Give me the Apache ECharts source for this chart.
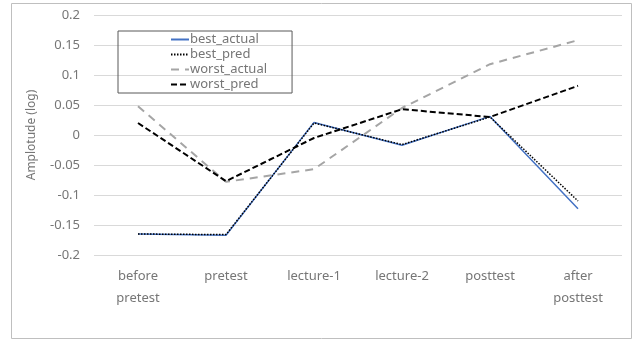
<!DOCTYPE html>
<html>
<head>
<meta charset="utf-8">
<script src="https://cdn.jsdelivr.net/npm/echarts@6/dist/echarts.min.js"></script>
<style>
html,body{margin:0;padding:0;background:#fff;}
#chart{width:639px;height:340px;}
</style>
</head>
<body>
<div id="chart"></div>
<script>
var categories = ['before\npretest', 'pretest', 'lecture-1', 'lecture-2', 'posttest', 'after\nposttest'];
var bestActual = [-0.165, -0.167, 0.021, -0.017, 0.031, -0.123];
var bestPred = [-0.165, -0.166, 0.020, -0.016, 0.030, -0.110];
var worstActual = [0.048, -0.078, -0.057, 0.045, 0.118, 0.158];
var worstPred = [0.020, -0.077, -0.005, 0.043, 0.030, 0.082];

var font = '"Noto Sans", sans-serif';
var txt = '#767676';
var myChart = echarts.init(document.getElementById('chart'));
var option = {
    textStyle: { fontFamily: font },
    animation: false,
    graphic: [{
        type: 'rect',
        shape: { x: 11.5, y: 3.5, width: 620, height: 335 },
        style: { fill: 'none', stroke: '#BFBFBF', lineWidth: 1 }
    }],
    legend: {
        orient: 'vertical',
        left: 118,
        top: 31,
        padding: [2, 25, 2, 52],
        itemGap: 2,
        itemWidth: 18,
        itemHeight: 14,
        itemStyle: { opacity: 0 },
        borderColor: '#595959',
        borderWidth: 1,
        textStyle: { color: txt, fontSize: 13, padding: [0, 0, 0, -4] },
        data: ['best_actual', 'best_pred', 'worst_actual', 'worst_pred']
    },
    grid: {
        left: 94,
        right: 17,
        top: 15,
        bottom: 85
    },
    xAxis: {
        type: 'category',
        data: categories,
        axisLine: { show: false },
        axisTick: { show: false },
        axisLabel: {
            color: txt,
            fontSize: 13,
            lineHeight: 22,
            margin: 10
        }
    },
    yAxis: {
        type: 'value',
        min: -0.2,
        max: 0.2,
        interval: 0.05,
        name: 'Amplotude (log)',
        nameLocation: 'middle',
        nameGap: 56,
        nameRotate: 90,
        nameTextStyle: { color: txt, fontSize: 12 },
        axisLabel: {
            color: txt,
            fontSize: 13,
            margin: 14,
            formatter: function (v) { return String(Math.round(v * 100) / 100); }
        },
        splitLine: { lineStyle: { color: '#D9D9D9' } }
    },
    series: [
        {
            name: 'best_actual',
            type: 'line',
            data: bestActual,
            symbol: 'none',
            lineStyle: { color: '#4472C4', width: 1.5 },
            itemStyle: { color: '#4472C4' }
        },
        {
            name: 'best_pred',
            type: 'line',
            data: bestPred,
            symbol: 'none',
            lineStyle: { color: '#000000', width: 1.5, type: [1.5, 1.5] },
            itemStyle: { color: '#000000' }
        },
        {
            name: 'worst_actual',
            type: 'line',
            data: worstActual,
            symbol: 'none',
            lineStyle: { color: '#A5A5A5', width: 2, type: [8, 6] },
            itemStyle: { color: '#A5A5A5' }
        },
        {
            name: 'worst_pred',
            type: 'line',
            data: worstPred,
            symbol: 'none',
            lineStyle: { color: '#000000', width: 2, type: [6, 3] },
            itemStyle: { color: '#000000' }
        }
    ]
};
myChart.setOption(option);
window.addEventListener('resize', function () { myChart.resize(); });
</script>
</body>
</html>
